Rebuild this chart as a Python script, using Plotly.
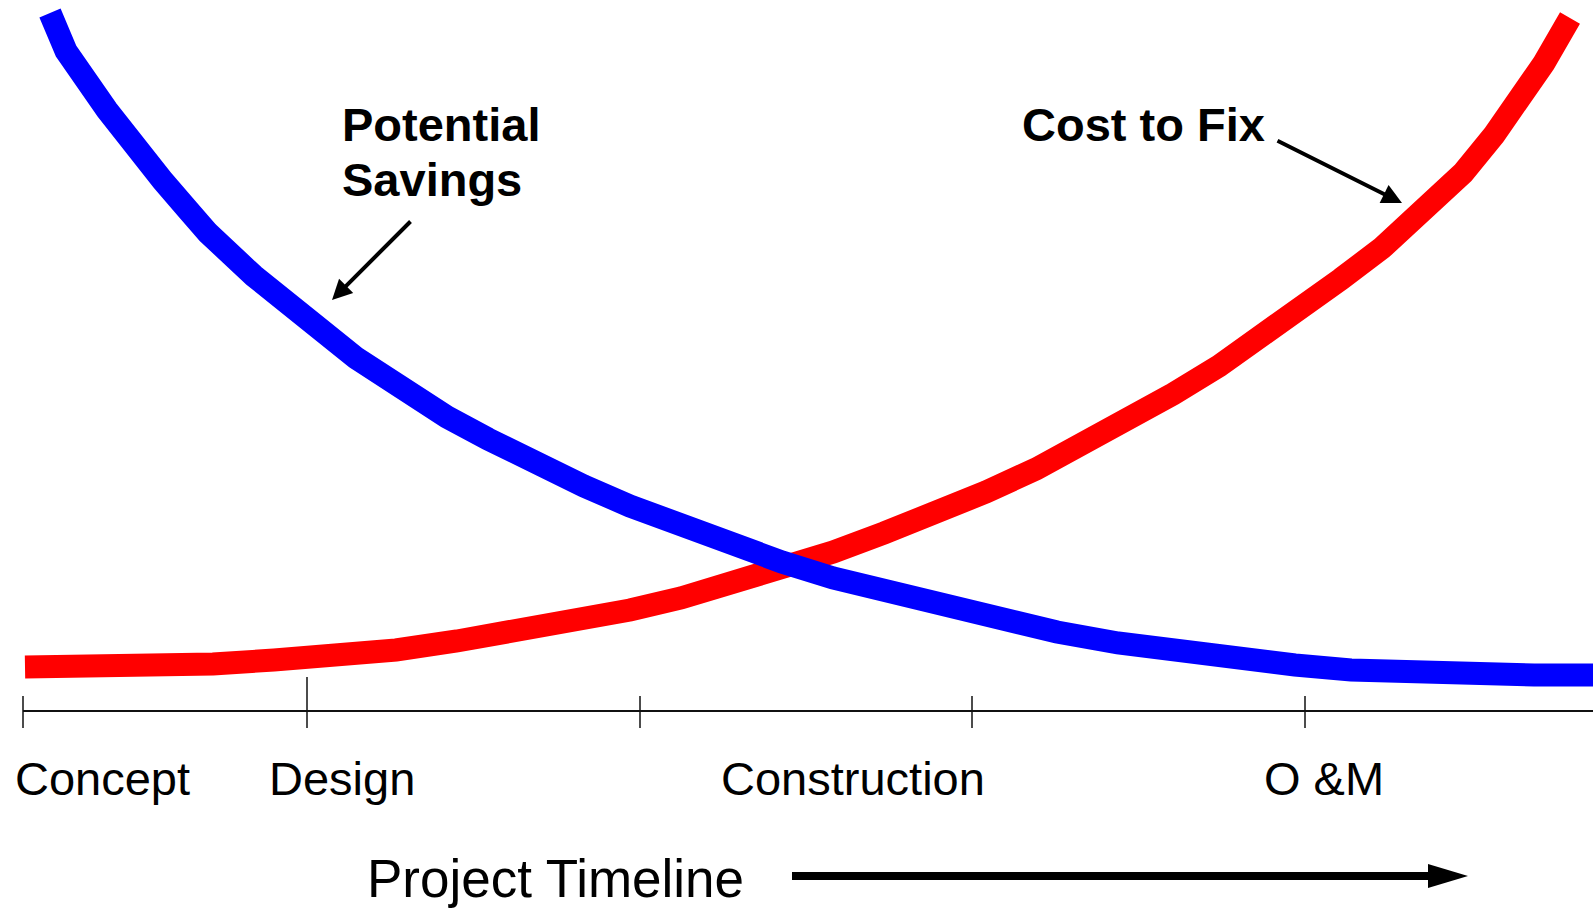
import plotly.graph_objects as go

# ---- data (timeline position, relative value) ----
cost_x = [25, 152, 213, 274, 335, 396, 457, 508, 569, 630, 681, 732, 782, 833, 884, 935,
          986, 1036, 1087, 1128, 1173, 1219, 1260, 1306, 1341, 1382, 1422, 1463, 1494, 1524, 1544, 1570]
cost_y = [241, 241, 244, 248, 252, 258, 267, 275, 286, 298, 310, 324, 339, 356, 375, 394,
          416, 439, 465, 487, 514, 542, 570, 601, 629, 660, 697, 735, 773, 811, 845, 890]

save_x = [50, 66, 107, 132, 163, 188, 208, 254, 279, 315, 356, 396, 447, 488, 528, 584, 630,
          681, 732, 782, 833, 889, 945, 1001, 1057, 1118, 1179, 1240, 1295, 1351, 1412, 1473, 1534, 1593]
save_y = [895, 857, 798, 764, 727, 698, 675, 632, 609, 583, 550, 522, 491, 469, 447, 422, 402,
          382, 363, 346, 330, 316, 300, 288, 276, 265, 256, 249, 243, 238, 235, 234, 233, 233]

tick_x = [23, 307, 640, 972, 1305]
tick_major = [False, True, False, False, False]
phase_labels = ["Concept", "Design", "Construction", "O &M"]
phase_label_x = [102, 342, 853, 1324]

W, H = 1593, 908
AXIS_Y = 197
FONT = "Liberation Sans, Arial, sans-serif"

fig = go.Figure()
fig.add_trace(go.Scatter(x=cost_x, y=cost_y, mode="lines",
                         line=dict(color="#ff0000", width=23), name="Cost to Fix",
                         hoverinfo="skip"))
fig.add_trace(go.Scatter(x=save_x, y=save_y, mode="lines",
                         line=dict(color="#0000ff", width=23), name="Potential Savings",
                         hoverinfo="skip"))

shapes = []
# timeline axis line
shapes.append(dict(type="line", xref="x", yref="y", x0=tick_x[0], x1=W, y0=AXIS_Y, y1=AXIS_Y,
                   line=dict(color="#111", width=2)))
for tx, major in zip(tick_x, tick_major):
    shapes.append(dict(type="line", xref="x", yref="y", x0=tx, x1=tx,
                       y0=AXIS_Y - 17, y1=AXIS_Y + (34 if major else 15),
                       line=dict(color="#111", width=1.5)))
# project timeline arrow
shapes.append(dict(type="line", xref="x", yref="y", x0=792, x1=1432, y0=32, y1=32,
                   line=dict(color="black", width=8)))
shapes.append(dict(type="path", xref="x", yref="y",
                   path="M 1428 44 L 1468 32 L 1428 20 Z",
                   fillcolor="black", line=dict(color="black", width=0)))

annotations = []
for lab, lx in zip(phase_labels, phase_label_x):
    annotations.append(dict(text=lab, x=lx, y=130, xref="x", yref="y", showarrow=False,
                            xanchor="center", yanchor="middle",
                            font=dict(family=FONT, size=47, color="black")))
annotations.append(dict(text="Project Timeline", x=555, y=30, xref="x", yref="y",
                        showarrow=False, xanchor="center", yanchor="middle",
                        font=dict(family=FONT, size=53, color="black")))
annotations.append(dict(text="<b>Potential</b>", x=340, y=784, xref="x", yref="y",
                        showarrow=False, xanchor="left", yanchor="middle",
                        font=dict(family=FONT, size=47, color="black")))
annotations.append(dict(text="<b>Savings</b>", x=340, y=729, xref="x", yref="y",
                        showarrow=False, xanchor="left", yanchor="middle",
                        font=dict(family=FONT, size=47, color="black")))
annotations.append(dict(text="<b>Cost to Fix</b>", x=1020, y=784, xref="x", yref="y",
                        showarrow=False, xanchor="left", yanchor="middle",
                        font=dict(family=FONT, size=47, color="black")))
# pointer arrows
annotations.append(dict(text="", x=332, y=608, ax=412, ay=688, xref="x", yref="y",
                        axref="x", ayref="y", showarrow=True, arrowhead=2, arrowsize=1,
                        arrowwidth=4, arrowcolor="black", standoff=0))
annotations.append(dict(text="", x=1402, y=705, ax=1276, ay=768, xref="x", yref="y",
                        axref="x", ayref="y", showarrow=True, arrowhead=2, arrowsize=1,
                        arrowwidth=4, arrowcolor="black", standoff=0))

fig.update_layout(
    width=W, height=H,
    margin=dict(l=0, r=0, t=0, b=0),
    paper_bgcolor="white", plot_bgcolor="white",
    showlegend=False,
    xaxis=dict(range=[0, W], visible=False, fixedrange=True),
    yaxis=dict(range=[0, H], visible=False, fixedrange=True),
    shapes=shapes, annotations=annotations,
)

fig.write_html("out.html", config={"displayModeBar": False},
               post_script="document.body.style.margin='0';document.body.style.overflow='hidden';")
